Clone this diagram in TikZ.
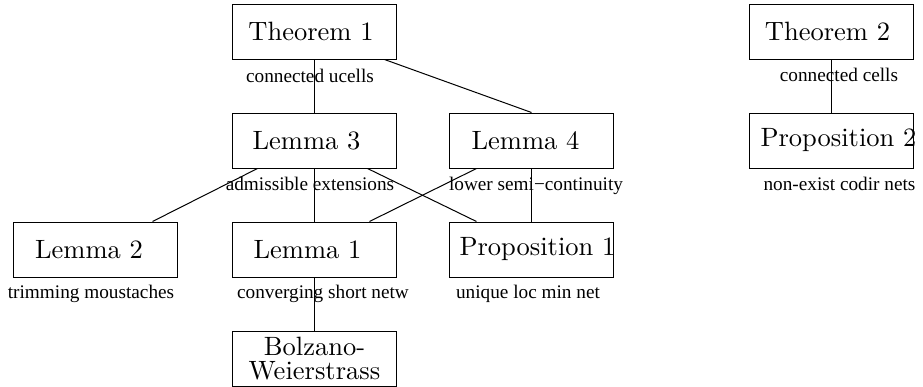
\documentclass[tikz,border=0pt]{standalone}
\usepackage{fontspec}
\newfontfamily\lblfont{Liberation Serif}
\usetikzlibrary{calc}
\newcommand{\bxt}[2]{\makebox[0pt]{\hspace*{#1}#2}}
\begin{document}
\begin{tikzpicture}[x=0.4pt,y=-0.4pt,
  box/.style={draw,line width=0.4pt,minimum width=65.2pt,minimum height=22pt,inner sep=0pt,font=\fontsize{10.6}{9.6}\selectfont},
  lbl/.style={anchor=base,inner sep=0pt,font=\lblfont\fontsize{7.7}{9}\selectfont},
  edge/.style={line width=0.4pt}]
\useasboundingbox (0,0) rectangle (923,387);
% boxes
\node[box] (t1) at (314.5,31.5) {\bxt{-2.8pt}{Theorem 1}};
\node[box] (l3) at (314.5,140.5) {\bxt{-6.4pt}{Lemma 3}};
\node[box] (l4) at (531.5,140.5) {\bxt{-4.8pt}{Lemma 4}};
\node[box] (l2) at (95.5,249.5) {\bxt{-5.2pt}{Lemma 2}};
\node[box] (l1) at (314.5,249.5) {\bxt{-5.6pt}{Lemma 1}};
\node[box] (p1) at (531.5,249.5) {\bxt{4.8pt}{Proposition 1}};
\node[box,align=center] (bw) at (314.5,359) {Bolzano-\\Weierstrass};
\node[box] (t2) at (831.5,31.5) {\bxt{-3.2pt}{Theorem 2}};
\node[box] (p2) at (831.5,140.5) {\bxt{5.6pt}{Proposition 2}};
% labels
\node[lbl] (lt1) at (310,82) {connected ucells};
\node[lbl] (ll3) at (310,190) {admissible extensions};
\node[lbl] (ll4) at (536,190) {lower semi−continuity};
\node[lbl] (ll2) at (91,298) {trimming moustaches};
\node[lbl] (ll1) at (323,298) {converging short netw};
\node[lbl] (lp1) at (528,298) {unique loc min net};
\node[lbl] (lt2) at (839,81) {connected cells};
\node[lbl] (lp2) at (839.5,190) {non-exist codir nets};
% edges
\draw[edge] (t1.south) -- (l3.north);
\draw[edge] ($(t1.south west)+(152,0)$) -- (l4.north);
\draw[edge] ($(l3.south west)+(25,0)$) -- ($(l2.north east)+(-25,0)$);
\draw[edge] (l3.south) -- (l1.north);
\draw[edge] ($(l3.south west)+(135,0)$) -- ($(p1.north west)+(27,0)$);
\draw[edge] ($(l4.south west)+(27,0)$) -- ($(l1.north west)+(137,0)$);
\draw[edge] (l4.south) -- (p1.north);
\draw[edge] (l1.south) -- (bw.north);
\draw[edge] (t2.south) -- (p2.north);
\end{tikzpicture}
\end{document}
